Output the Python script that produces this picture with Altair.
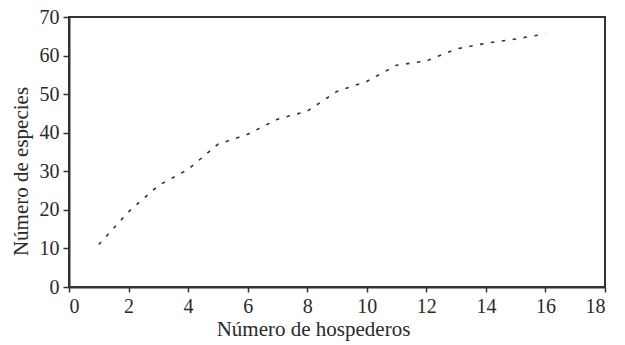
import altair as alt
import pandas as pd

# Species accumulation: number of species found vs. number of hosts sampled
hosts = [1, 2, 3, 4, 5, 6, 7, 8, 9, 10, 11, 12, 13, 14, 15, 16]
species = [11, 19.5, 26.3, 30.5, 37, 39.6, 43.5, 45.6, 50.7, 53.3, 57.5, 58.6, 61.7, 63.2, 64.3, 65.6]

x_ticks = list(range(0, 19, 2))
y_ticks = list(range(0, 71, 10))

df = pd.DataFrame({"hosts": hosts, "species": species})

font = "'Times New Roman', 'Liberation Serif', serif"
ink = "#333333"
text_ink = "#2a2a2a"

line = alt.Chart(df).mark_line(
    color=ink, strokeWidth=1.6, strokeDash=[3.5, 7.5]
).encode(
    x=alt.X(
        "hosts:Q",
        scale=alt.Scale(domain=[0, 18], nice=False, zero=True),
        axis=alt.Axis(
            title="Número de hospederos",
            values=x_ticks,
            format="d",
            grid=False,
            tickSize=5,
            labelPadding=4,
            titlePadding=2,
            titleX=244,
        ),
    ),
    y=alt.Y(
        "species:Q",
        scale=alt.Scale(domain=[0, 70], nice=False),
        axis=alt.Axis(
            title="Número de especies",
            values=y_ticks,
            format="d",
            grid=False,
            tickSize=6,
            labelPadding=4,
            titlePadding=8,
            titleY=154,
        ),
    ),
)

chart = line.properties(
    width=536,
    height=270,
    autosize=alt.AutoSizeParams(type="none"),
    padding={"left": 69, "top": 17, "right": 20, "bottom": 58},
    background="white",
).configure_view(
    stroke=ink, strokeWidth=2
).configure_axis(
    domainColor=ink,
    domainWidth=2,
    tickColor=ink,
    tickWidth=1.5,
    labelFont=font,
    labelFontSize=20,
    labelColor=text_ink,
    titleFont=font,
    titleFontSize=21,
    titleFontWeight="normal",
    titleColor=text_ink,
)

chart.save("out.html", embed_options={"renderer": "svg", "actions": False})
